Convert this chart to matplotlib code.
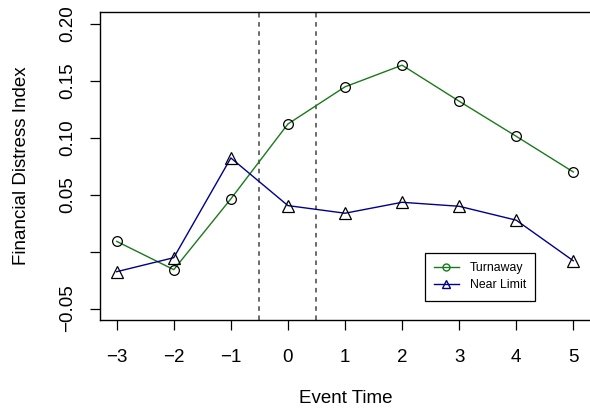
import matplotlib
matplotlib.use("Agg")
import matplotlib.pyplot as plt

# event time and index values
event_time = [-3, -2, -1, 0, 1, 2, 3, 4, 5]
turnaway = [0.009, -0.0158, 0.0463, 0.112, 0.1446, 0.1636, 0.132, 0.1012, 0.0699]
near_limit = [-0.0176, -0.0053, 0.0822, 0.0404, 0.0337, 0.0433, 0.0398, 0.0276, -0.008]

y_ticks = [-0.05, 0.0, 0.05, 0.10, 0.15, 0.20]
y_tick_labels = ["\u22120.05", "", "0.05", "0.10", "0.15", "0.20"]
x_tick_labels = ["\u22123", "\u22122", "\u22121", "0", "1", "2", "3", "4", "5"]

plt.rcParams["font.family"] = ["Liberation Sans", "DejaVu Sans"]
plt.rcParams["font.size"] = 13.5

fig = plt.figure(figsize=(5.9, 4.18), dpi=100)
ax = fig.add_axes([0.1695, 0.2344, 0.8339, 0.7362])

green = "#1a7a1a"
blue = "#00008B"

ax.plot(event_time, turnaway, color=green, lw=1, zorder=2)
ax.plot(event_time, turnaway, "o", mfc="none", mec="black", ms=7, mew=0.9, zorder=3)
ax.plot(event_time, near_limit, color=blue, lw=1, zorder=2)
ax.plot(event_time, near_limit, "^", mfc="none", mec="black", ms=8.5, mew=0.9, zorder=3)

for xv in (-0.5, 0.5):
    ax.axvline(xv, color="#444444", lw=1.1, linestyle=(0, (3, 3)), zorder=1)

ax.set_xlim(-3.2926, 5.328)
ax.set_ylim(-0.06, 0.21)
ax.set_xticks(event_time)
ax.set_xticklabels(x_tick_labels)
ax.set_yticks(y_ticks)
ax.set_yticklabels(y_tick_labels, rotation=90, va="center")
ax.tick_params(direction="out", length=7, width=0.9, pad=10)
ax.tick_params(axis="x", pad=14)
for s in ax.spines.values():
    s.set_linewidth(1.0)
ax.spines["right"].set_visible(False)

ax.set_xlabel("Event Time", labelpad=17)
ax.set_ylabel("Financial Distress Index", labelpad=21)

h1, = ax.plot([], [], color=green, lw=1, marker="o", mfc="none", mec=green, ms=5)
h2, = ax.plot([], [], color=blue, lw=1, marker="^", mfc="none", mec=blue, ms=5.5)
leg = ax.legend([h1, h2], ["Turnaway", "Near Limit"], loc="upper left",
                bbox_to_anchor=(0.6606, 0.2187), fontsize=8.8, fancybox=False,
                framealpha=1, edgecolor="black", borderpad=0.75, handlelength=2.0,
                labelspacing=0.45, handletextpad=0.9, borderaxespad=0)
leg.get_frame().set_linewidth(0.9)

fig.savefig("out.png", dpi=100)
